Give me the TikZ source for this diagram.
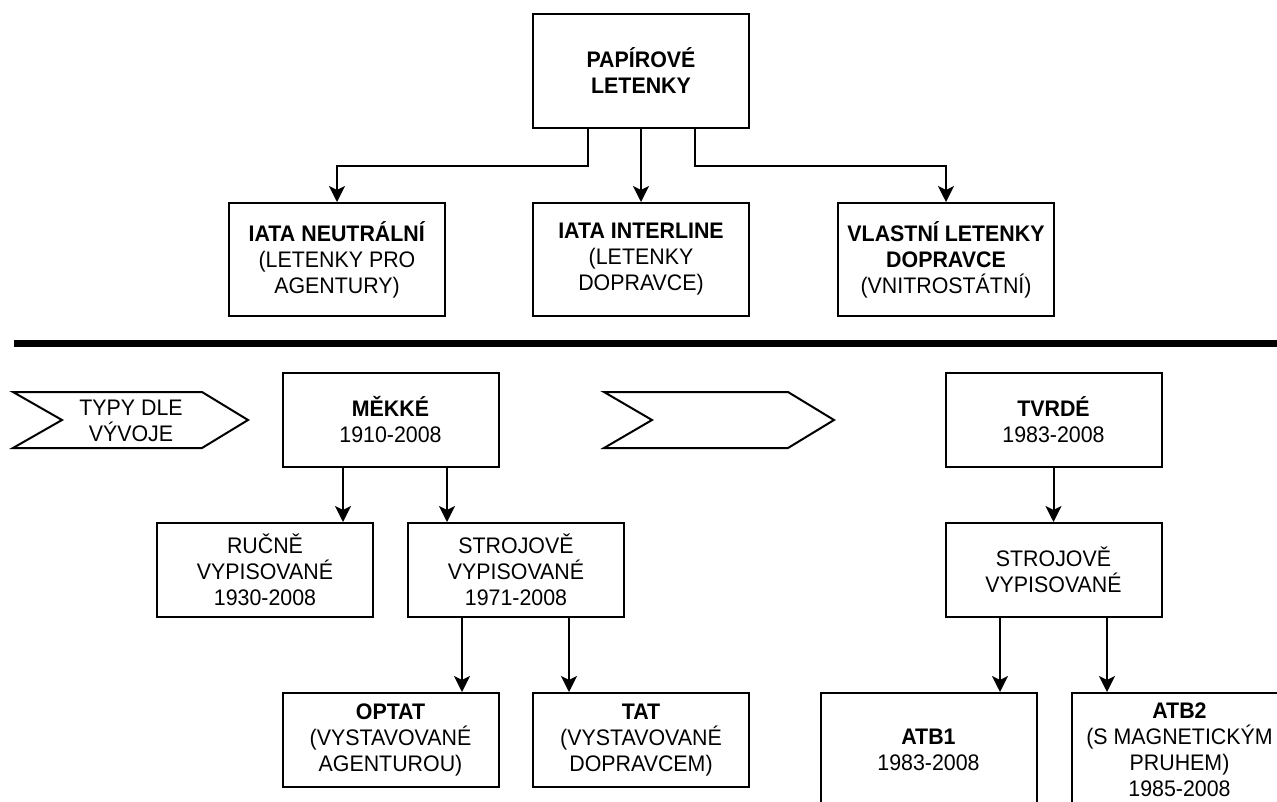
\documentclass[tikz,border=0pt]{standalone}
\usepackage{fontspec}
\setmainfont{Liberation Sans}[FakeStretch=0.95]
\usetikzlibrary{arrows.meta}
\begin{document}
\begin{tikzpicture}[x=1pt,y=-1pt,
  box/.style={draw, line width=2pt, rectangle, minimum width=216pt, minimum height=94pt,
    inner sep=0pt, align=center, font=\fontsize{22.5}{26}\selectfont},
  tallbox/.style={box, minimum height=114pt},
  arr/.style={line width=2pt, -{Stealth[length=16pt,width=16pt,inset=4pt]}},
  chev/.style={line width=2pt, line join=miter},
  lbl/.style={inner sep=0pt, align=center, font=\fontsize{22.5}{26}\selectfont}]
\useasboundingbox (0,0) rectangle (1277,801);
\clip (0,0) rectangle (1277,801);

% top part
\node[tallbox] (pap) at (641,71) {\textbf{PAPÍROVÉ}\\\textbf{LETENKY}};
\node[tallbox, minimum height=113pt] (iata1) at (337,259.5) {\textbf{IATA NEUTRÁLNÍ}\\(LETENKY PRO\\AGENTURY)};
\node[tallbox, minimum height=113pt] (iata2) at (641,259.5) {\textbf{IATA INTERLINE}\\(LETENKY\\DOPRAVCE)};
\node[tallbox, minimum height=113pt] (vlast) at (946,259.5) {\textbf{VLASTNÍ LETENKY}\\\textbf{DOPRAVCE}\\(VNITROSTÁTNÍ)};

\coordinate (xa) at (588,0);
\coordinate (xb) at (695,0);
\draw[arr] (pap.south -| xa) -- ++(0,37) -| (iata1.north);
\draw[arr] (pap.south) -- (iata2.north);
\draw[arr] (pap.south -| xb) -- ++(0,37) -| (vlast.north);

% separator
\draw[line width=7pt] (14,343.5) -- (1290,343.5);

% chevrons
\draw[chev] (13,392) -- (202,392) -- (248,420) -- (202,448) -- (13,448) -- (62,420) -- cycle;
\node[lbl] (typy) at (131,421) {TYPY DLE\\VÝVOJE};
\draw[chev] (604,392) -- (788,392) -- (834,420) -- (788,448) -- (604,448) -- (652,420) -- cycle;

% soft tickets
\node[box] (mek) at (390.5,420) {\textbf{MĚKKÉ}\\1910-2008};
\node[box] (ruc) at (265,570) {RUČNĚ\\VYPISOVANÉ\\1930-2008};
\node[box] (stroj) at (516,570) {STROJOVĚ\\VYPISOVANÉ\\1971-2008};
\node[box] (optat) at (390.5,740) {\textbf{OPTAT}\\(VYSTAVOVANÉ\\AGENTUROU)};
\node[box] (tat) at (641,740) {\textbf{TAT}\\(VYSTAVOVANÉ\\DOPRAVCEM)};

\coordinate (x1) at (343,0);
\coordinate (x2) at (447,0);
\coordinate (x3) at (462,0);
\coordinate (x4) at (569,0);
\draw[arr] (mek.south -| x1) -- (ruc.north -| x1);
\draw[arr] (mek.south -| x2) -- (stroj.north -| x2);
\draw[arr] (stroj.south -| x3) -- (optat.north -| x3);
\draw[arr] (stroj.south -| x4) -- (tat.north -| x4);

% hard tickets
\node[box] (tvrde) at (1053.5,420) {\textbf{TVRDÉ}\\1983-2008};
\node[box] (stroj2) at (1053.5,570) {STROJOVĚ\\VYPISOVANÉ};
\node[tallbox] (atb1) at (928.5,750) {\textbf{ATB1}\\1983-2008};
\node[tallbox] (atb2) at (1179.5,750) {\textbf{ATB2}\\(S MAGNETICKÝM\\PRUHEM)\\1985-2008};

\coordinate (x5) at (1000,0);
\coordinate (x6) at (1107,0);
\draw[arr] (tvrde.south) -- (stroj2.north);
\draw[arr] (stroj2.south -| x5) -- (atb1.north -| x5);
\draw[arr] (stroj2.south -| x6) -- (atb2.north -| x6);
\end{tikzpicture}
\end{document}
